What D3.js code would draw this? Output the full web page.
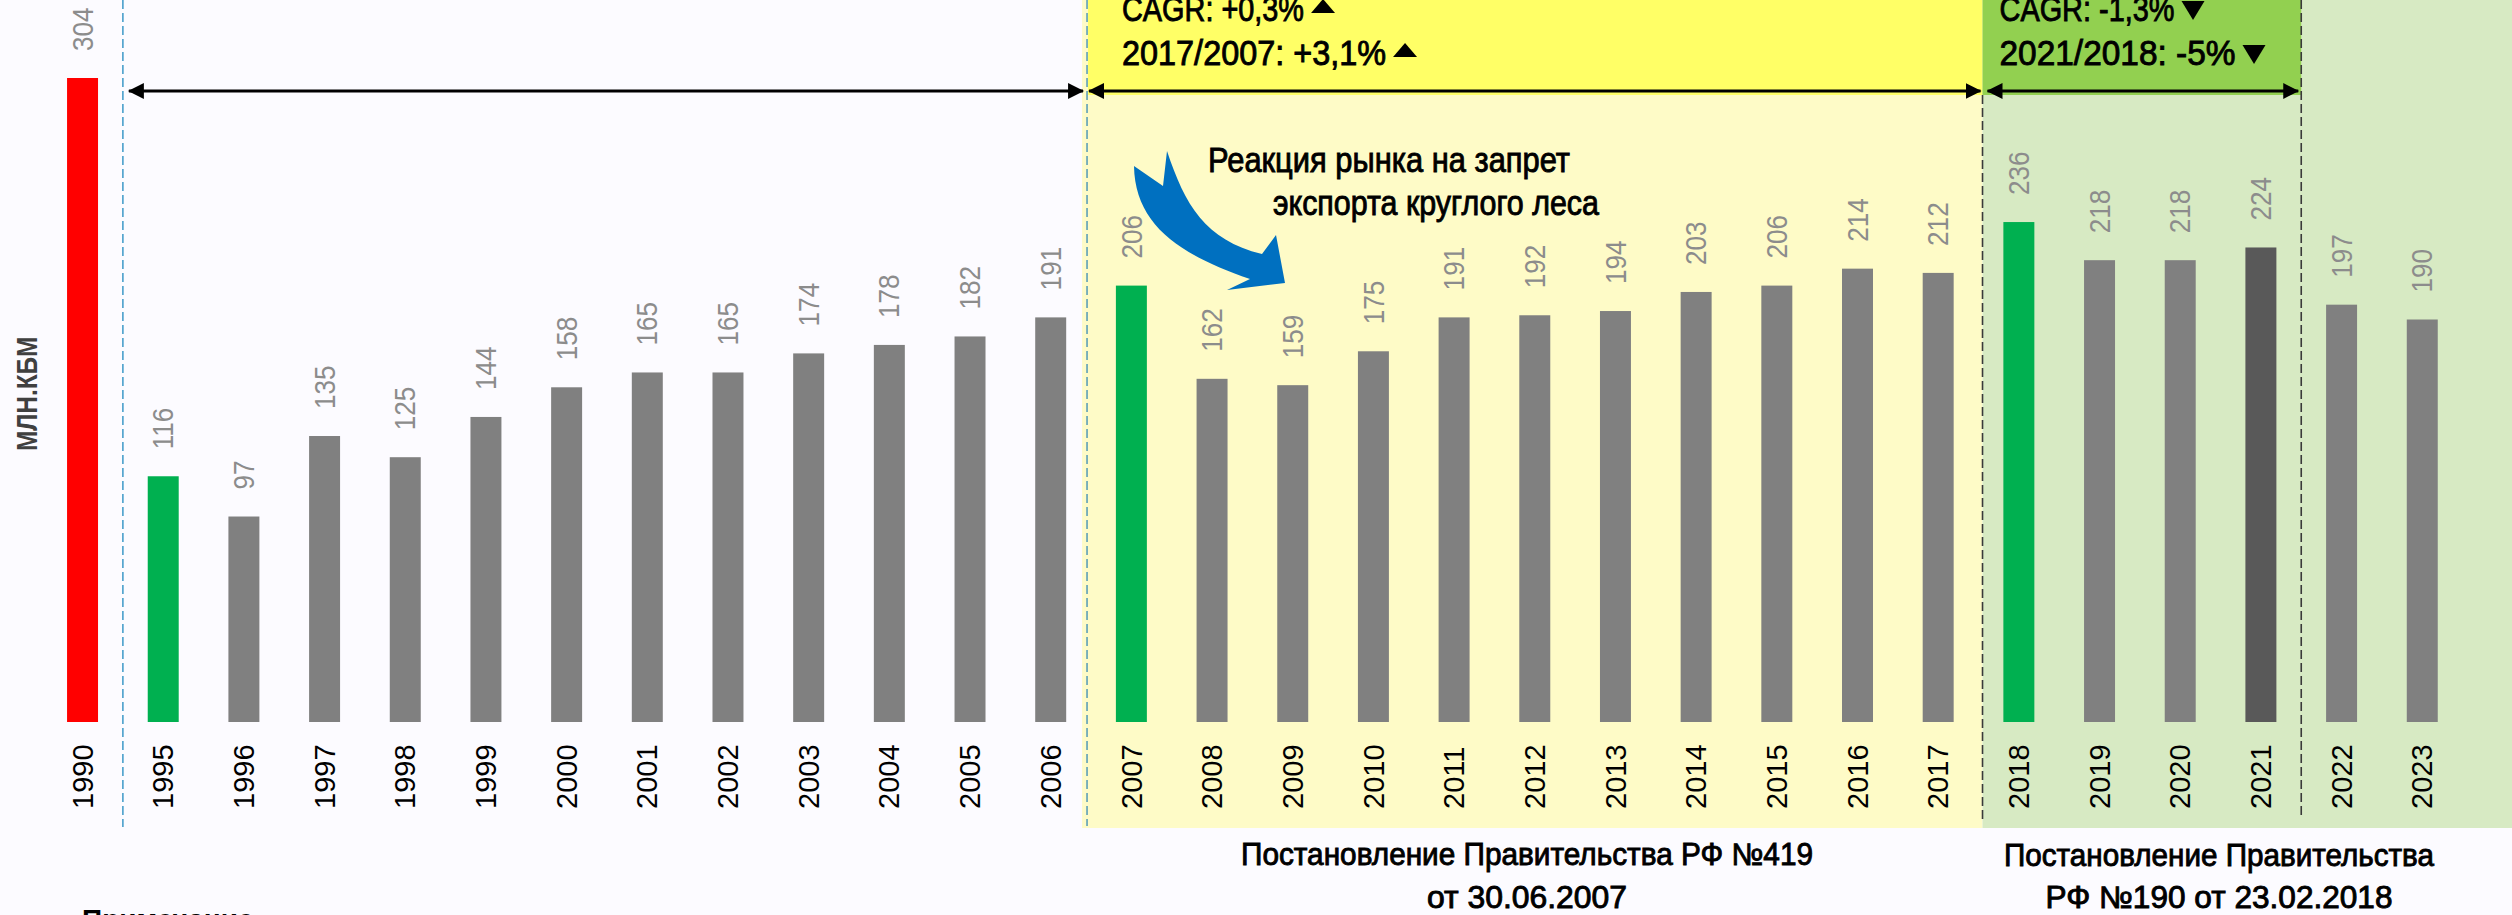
<!DOCTYPE html>
<html>
<head>
<meta charset="utf-8">
<title>Экспорт круглого леса</title>
<style>
  body { margin: 0; background: #fcfbff; }
  svg { display: block; }
</style>
</head>
<body>
<svg width="2512" height="915"></svg>
<script src="https://d3js.org/d3.v7.min.js"></script>
<script>
// данные
const years = ['1990','1995','1996','1997','1998','1999','2000','2001','2002','2003','2004','2005','2006',
  '2007','2008','2009','2010','2011','2012','2013','2014','2015','2016','2017',
  '2018','2019','2020','2021','2022','2023'];
const values = [304,116,97,135,125,144,158,165,165,174,178,182,191,
  206,162,159,175,191,192,194,203,206,214,212,
  236,218,218,224,197,190];
const redYears = ['1990'];
const greenYears = ['1995','2007','2018'];
const darkYears = ['2021'];

const unitLabel = 'МЛН.КБМ';
const headerYellow = ['CAGR: +0,3%', '2017/2007: +3,1%'];
const headerGreen = ['CAGR: -1,3%', '2021/2018: -5%'];
const noteLines = ['Реакция рынка на запрет', 'экспорта круглого леса'];
const footerYellow = ['Постановление Правительства РФ №419', 'от 30.06.2007'];
const footerGreen = ['Постановление Правительства', 'РФ №190 от 23.02.2018'];
const footnote = 'Примечание:';

const W = 2512, H = 915;
const font = '"Liberation Sans", Arial, sans-serif';

const svg = d3.select('svg').attr('width', W).attr('height', H);

const x = d3.scaleBand()
  .domain(years)
  .range([42.2, 2462.6])
  .paddingInner(0.616)
  .paddingOuter(0.308);

const y = d3.scaleLinear().domain([0, 304]).range([722, 78]);

const cx = d => x(d) + x.bandwidth() / 2;
const mid = (a, b) => (cx(a) + cx(b)) / 2;

const b1 = mid('1990', '1995');
const b2 = mid('2006', '2007') - 4;
const b3 = mid('2017', '2018') + 4;
const b4 = mid('2021', '2022');
const zoneBottom = 828;
const headH = 95;
const arrowY = 91;

// фон
svg.append('rect').attr('width', W).attr('height', H).attr('fill', '#fcfbff');
svg.append('rect').attr('x', b2 - 5).attr('y', 0).attr('width', b3 - b2 + 5).attr('height', zoneBottom).attr('fill', '#fefbc7');
svg.append('rect').attr('x', b3).attr('y', 0).attr('width', W - b3).attr('height', zoneBottom).attr('fill', '#d7eac3');
svg.append('rect').attr('x', b2 + 1).attr('y', 0).attr('width', b3 - b2 - 1).attr('height', headH).attr('fill', '#ffff66');
svg.append('rect').attr('x', b3).attr('y', 0).attr('width', b4 - b3).attr('height', headH).attr('fill', '#92d050');

// пунктиры
const dashes = [
  {x: b1, y1: 0, y2: 827, c: '#4a9fcc'},
  {x: b2, y1: 0, y2: 826, c: '#5d9fb8'},
  {x: b3, y1: headH, y2: 822, c: '#3a3a3a'},
  {x: b4, y1: 0, y2: 818, c: '#3a3a3a'}
];
svg.append('g').selectAll('line').data(dashes).join('line')
  .attr('x1', d => d.x).attr('x2', d => d.x)
  .attr('y1', d => d.y1).attr('y2', d => d.y2)
  .attr('stroke', d => d.c).attr('stroke-width', 1.6)
  .attr('stroke-dasharray', '9,4');

// стрелки периодов
svg.append('defs').append('marker')
  .attr('id', 'head')
  .attr('viewBox', '0 -8 16 16')
  .attr('refX', 15).attr('refY', 0)
  .attr('markerUnits', 'userSpaceOnUse')
  .attr('markerWidth', 16).attr('markerHeight', 16)
  .attr('orient', 'auto-start-reverse')
  .append('path').attr('d', 'M0,-8L16,0L0,8Z').attr('fill', '#000');

const spans = [[b1 + 6, b2 - 4], [b2 + 2, b3 - 2], [b3 + 5, b4 - 3]];
svg.append('g').selectAll('line').data(spans).join('line')
  .attr('x1', d => d[0]).attr('x2', d => d[1])
  .attr('y1', arrowY).attr('y2', arrowY)
  .attr('stroke', '#000').attr('stroke-width', 3)
  .attr('marker-start', 'url(#head)').attr('marker-end', 'url(#head)');

// столбцы
const barColor = d => redYears.includes(d) ? '#ff0000'
  : greenYears.includes(d) ? '#00b050'
  : darkYears.includes(d) ? '#595959' : '#808080';

svg.append('g').selectAll('rect').data(years).join('rect')
  .attr('x', d => x(d))
  .attr('y', (d, i) => y(values[i]))
  .attr('width', x.bandwidth())
  .attr('height', (d, i) => y(0) - y(values[i]))
  .attr('fill', barColor);

// подписи значений
svg.append('g').selectAll('text').data(years).join('text')
  .attr('transform', (d, i) => `translate(${cx(d)},${y(values[i]) - 27}) rotate(-90) scale(0.9,1)`)
  .attr('dy', '0.35em')
  .attr('font-family', font).attr('font-size', 29)
  .attr('fill', '#8c8c8c')
  .text((d, i) => values[i]);

// годы
svg.append('g').selectAll('text').data(years).join('text')
  .attr('transform', d => `translate(${cx(d)},809) rotate(-90)`)
  .attr('dy', '0.35em')
  .attr('font-family', font).attr('font-size', 29)
  .attr('fill', '#000')
  .text(d => d);

// единицы
svg.append('text')
  .attr('transform', 'translate(27,451) rotate(-90) scale(0.84,1)')
  .attr('dy', '0.35em')
  .attr('font-family', font).attr('font-size', 29).attr('font-weight', 'bold')
  .attr('fill', '#404040')
  .text(unitLabel);

// полужирный вид для надписей
const heavy = sel => sel.attr('stroke', '#000').attr('stroke-width', 0.9).attr('paint-order', 'stroke');

// заголовки периодов
function header(lines, x0, widths, up) {
  const g = svg.append('g');
  lines.forEach((t, i) => {
    const base = 21 + i * 44;
    g.append('text')
      .attr('x', x0).attr('y', base)
      .attr('font-family', font).attr('font-size', 35)
      .attr('textLength', widths[i]).attr('lengthAdjust', 'spacingAndGlyphs')
      .attr('fill', '#000')
      .call(heavy)
      .text(t);
    const tx = x0 + widths[i] + 7;
    const tri = up
      ? `M${tx},${base - 8}L${tx + 24},${base - 8}L${tx + 12},${base - 22}Z`
      : `M${tx},${base - 20}L${tx + 23},${base - 20}L${tx + 11.5},${base - 1}Z`;
    g.append('path').attr('d', tri).attr('fill', '#000');
  });
}
header(headerYellow, b2 + 35, [182, 264], true);
header(headerGreen, b3 + 17, [175, 236], false);

// аннотация
const note = svg.append('g');
note.append('path')
  .attr('d', 'M1134,166 L1163,186 L1167,151 C1185,205 1205,240 1262,254 L1276,235 L1285,283 L1227,290 L1250,279 C1180,255 1135,225 1134,166 Z')
  .attr('fill', '#0070c0');
[[1208, 172, 362], [1273, 215, 326]].forEach((p, i) => {
  note.append('text')
    .attr('x', p[0]).attr('y', p[1])
    .attr('font-family', font).attr('font-size', 35)
    .attr('textLength', p[2]).attr('lengthAdjust', 'spacingAndGlyphs')
    .attr('fill', '#000')
    .call(heavy)
    .text(noteLines[i]);
});

// подписи внизу
function footer(lines, xc, bases, widths) {
  lines.forEach((t, i) => {
    svg.append('text')
      .attr('x', xc).attr('y', bases[i])
      .attr('text-anchor', 'middle')
      .attr('font-family', font).attr('font-size', 31)
      .attr('textLength', widths[i]).attr('lengthAdjust', 'spacingAndGlyphs')
      .attr('fill', '#000')
      .call(heavy)
      .text(t);
  });
}
footer(footerYellow, 1527, [865, 908], [572, 200]);
footer(footerGreen, 2219, [866, 908], [430, 347]);

svg.append('text')
  .attr('x', 82).attr('y', 929)
  .attr('font-family', font).attr('font-size', 28).attr('font-weight', 'bold')
  .attr('fill', '#000')
  .text(footnote);
</script>
</body>
</html>
